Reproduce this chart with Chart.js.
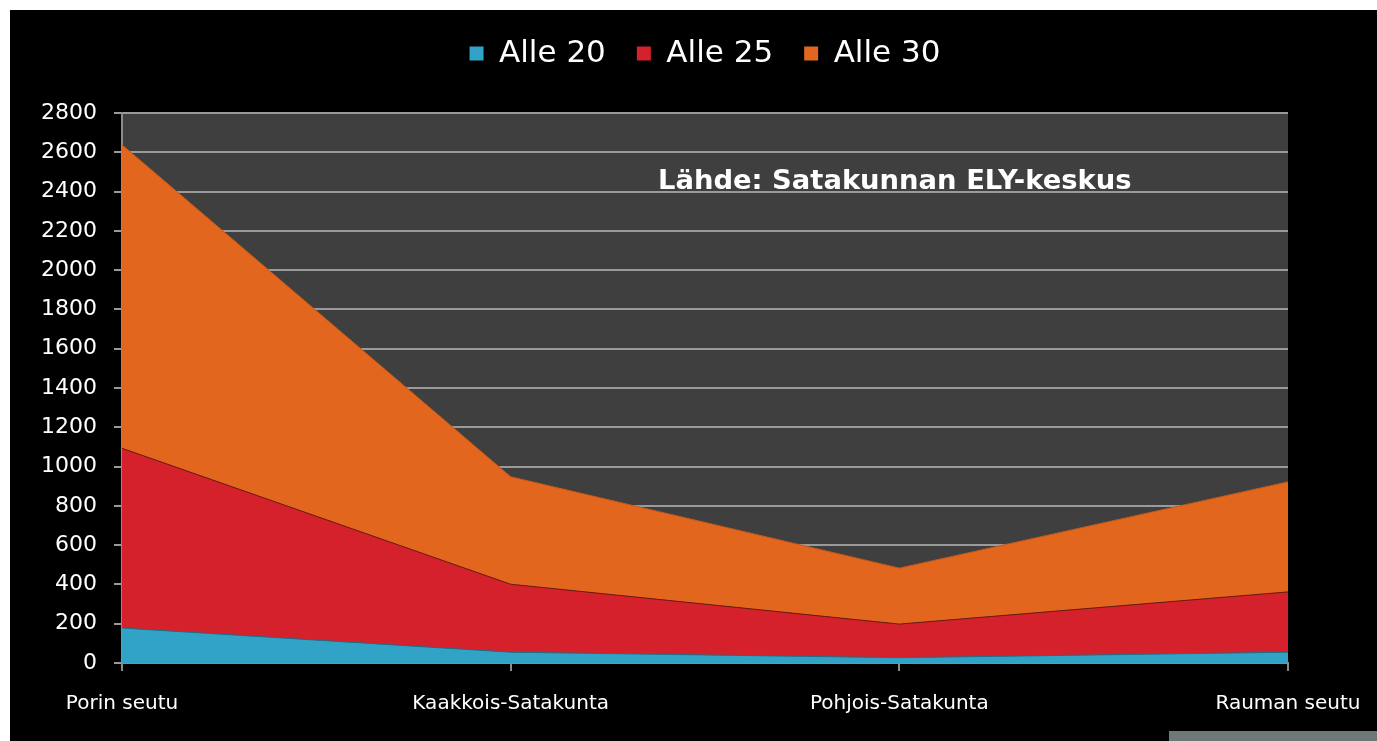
<!DOCTYPE html>
<html>
<head>
<meta charset="utf-8">
<script src="https://cdn.jsdelivr.net/npm/chart.js@4"></script>
<style>
  body { margin: 0; background: #fff; }
  #wrap { position: absolute; left: 10px; top: 10px; width: 1367px; height: 731px; background: #000; }
  #note { position: absolute; left: 648px; top: 154px; color: #fff; font: bold 27.4px "DejaVu Sans", sans-serif; white-space: nowrap; }
  #corner { position: absolute; left: 1169px; top: 731px; width: 208px; height: 10px; background: #6f7777; }
</style>
</head>
<body>
<div id="wrap">
  <canvas id="myChart" width="1367" height="731"></canvas>
  <div id="note">Lähde: Satakunnan ELY-keskus</div>
</div>
<div id="corner"></div>
<script>
const regions = ['Porin seutu', 'Kaakkois-Satakunta', 'Pohjois-Satakunta', 'Rauman seutu'];
const alle20 = [178, 55, 27, 55];
const alle25 = [915, 346, 171, 307];
const alle30 = [1545, 547, 285, 560];

// dark grey fill behind the plot
const plotBg = {
    id: 'plotBg',
    beforeDraw(chart) {
        const a = chart.chartArea;
        chart.ctx.save();
        chart.ctx.fillStyle = '#3f3f3f';
        chart.ctx.fillRect(a.left, a.top, a.right - a.left, a.bottom - a.top);
        chart.ctx.restore();
    }
};

// extra room under the legend, and centre it over the plot
const legendGap = {
    id: 'legendGap',
    beforeInit(chart) {
        const fit = chart.legend.fit;
        chart.legend.fit = function () {
            fit.bind(chart.legend)();
            this.height += 34;
        };
    },
    afterLayout(chart) {
        const lg = chart.legend;
        const a = chart.chartArea;
        const dx = (a.left + a.right) / 2 - (lg.left + lg.right) / 2;
        lg.left += dx;
        lg.right += dx;
    }
};

Chart.defaults.font.family = '"DejaVu Sans", sans-serif';
Chart.defaults.color = '#fff';

const ctx = document.getElementById('myChart').getContext('2d');
const myChart = new Chart(ctx, {
    type: 'line',
    data: {
        labels: regions,
        datasets: [
            {
                label: 'Alle 20',
                data: alle20,
                fill: 'origin',
                backgroundColor: '#30a3c6',
                borderColor: '#1f6f88',
                borderWidth: 1,
                pointRadius: 0,
                tension: 0
            },
            {
                label: 'Alle 25',
                data: alle25,
                fill: '-1',
                backgroundColor: '#d4212c',
                borderColor: '#6a1a12',
                borderWidth: 1,
                pointRadius: 0,
                tension: 0
            },
            {
                label: 'Alle 30',
                data: alle30,
                fill: '-1',
                backgroundColor: '#e2661e',
                borderColor: '#c85a18',
                borderWidth: 1,
                pointRadius: 0,
                tension: 0
            }
        ]
    },
    options: {
        responsive: false,
        animation: false,
        layout: { padding: { left: 0, right: 89, top: -3, bottom: 4 } },
        plugins: {
            legend: {
                labels: {
                    font: { size: 31 },
                    boxWidth: 14,
                    boxHeight: 14,
                    padding: 31,
                    generateLabels(chart) {
                        return chart.data.datasets.map((ds, i) => ({
                            text: ds.label,
                            fillStyle: ds.backgroundColor,
                            strokeStyle: ds.backgroundColor,
                            lineWidth: 0,
                            fontColor: '#fff',
                            datasetIndex: i
                        }));
                    }
                }
            },
            tooltip: { enabled: false }
        },
        scales: {
            x: {
                offset: false,
                afterFit(scale) { scale.paddingLeft = 0; scale.paddingRight = 0; },
                grid: { display: true, drawOnChartArea: false, color: '#8c8c8c', tickLength: 8, lineWidth: 2 },
                border: { color: '#8c8c8c', width: 2 },
                ticks: { font: { size: 20 }, padding: 21, maxRotation: 0 }
            },
            y: {
                stacked: true,
                min: 0,
                max: 2800,
                afterFit(scale) { scale.width = 112; },
                ticks: { stepSize: 200, font: { size: 22 }, padding: 17, callback: v => String(v) },
                grid: { color: '#9a9a9a', lineWidth: 2, tickLength: 8 },
                border: { color: '#8c8c8c', width: 2 }
            }
        }
    },
    plugins: [plotBg, legendGap]
});
</script>
</body>
</html>
